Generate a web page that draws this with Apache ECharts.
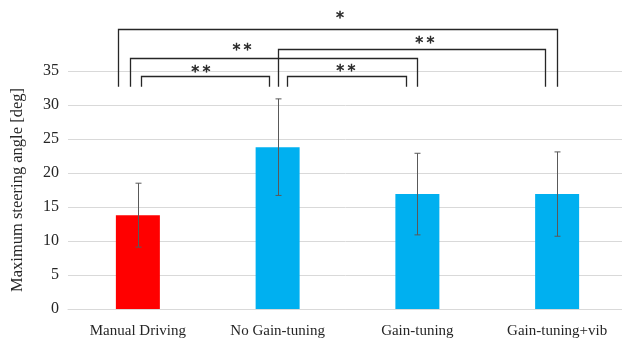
<!DOCTYPE html>
<html><head><meta charset="utf-8">
<script src="https://cdn.jsdelivr.net/npm/echarts@6/dist/echarts.min.js"></script>
<style>html,body{margin:0;padding:0;background:#fff}#c{width:622px;height:339px}</style>
</head><body><div id="c"></div>
<script>
const categories = ['Manual Driving', 'No Gain-tuning', 'Gain-tuning', 'Gain-tuning+vib'];
const means = [13.8, 23.8, 16.9, 16.9];
const sds = [4.7, 7.1, 6.0, 6.2];
const yTicks = [0, 5, 10, 15, 20, 25, 30, 35];
// significance comparisons: [from, to, label]
const comparisons = [[0, 3, '*'], [0, 2, '**'], [0, 1, '**'], [1, 3, '**'], [1, 2, '**']];
const bracketTop = [41.2, 36.9, 34.2, 38.3, 34.2];
const bracketLeftOff = [-0.145, -0.055, 0.02, 0.0, 0.07];
const bracketRightOff = [0.0, 0.0, -0.06, -0.09, -0.08];
const starX = [1.446, 0.745, 0.451, 2.054, 1.489];
const starLevel = [42.6, 37.9, 34.7, 39.0, 34.9];
const legBottom = 32.7;

const barColors = ['#FF0000', '#00B0F0', '#00B0F0', '#00B0F0'];
const font = 'Liberation Serif';

const chart = echarts.init(document.getElementById('c'));
chart.setOption({
  animation: false,
  grid: { left: 68, right: -5, top: 71, bottom: 30, outerBoundsMode: 'none', containLabel: false },
  xAxis: {
    type: 'category', data: categories,
    axisTick: { show: false },
    axisLine: { lineStyle: { color: '#d9d9d9' } },
    axisLabel: { fontFamily: font, fontSize: 15, color: '#262626', margin: 15 }
  },
  yAxis: {
    type: 'value', min: yTicks[0], max: yTicks[yTicks.length - 1], interval: 5,
    name: 'Maximum steering angle [deg]', nameLocation: 'middle', nameRotate: 90, nameGap: 42,
    nameTextStyle: { fontFamily: font, fontSize: 16.5, color: '#262626' },
    axisLine: { show: false }, axisTick: { show: false },
    axisLabel: { fontFamily: font, fontSize: 16, color: '#262626', margin: 9 },
    splitLine: { lineStyle: { color: '#d9d9d9', width: 1 } }
  },
  series: [
    {
      type: 'bar', barWidth: 44,
      data: means.map((v, i) => ({ value: v, itemStyle: { color: barColors[i] } }))
    },
    {
      type: 'custom', z: 5,
      data: means.map((m, i) => [i, m - sds[i], m + sds[i]]),
      renderItem: function (params, api) {
        const lo = api.coord([api.value(0), api.value(1)]);
        const hi = api.coord([api.value(0), api.value(2)]);
        const x = Math.round(lo[0]) + 0.5, hw = 3;
        const st = { stroke: '#595959', lineWidth: 1 };
        return { type: 'group', children: [
          { type: 'line', shape: { x1: x, y1: lo[1], x2: x, y2: hi[1] }, style: st },
          { type: 'line', shape: { x1: x - hw, y1: lo[1], x2: x + hw, y2: lo[1] }, style: st },
          { type: 'line', shape: { x1: x - hw, y1: hi[1], x2: x + hw, y2: hi[1] }, style: st }
        ]};
      }
    },
    {
      type: 'custom', z: 6, clip: false,
      data: comparisons.map((c, i) => [c[0], c[1], i]),
      renderItem: function (params, api) {
        const i = api.value(2);
        const c = comparisons[i];
        const band = api.size([1, 0])[0];
        const px = (xc, y) => { const p = api.coord([0, y]); return [p[0] + xc * band, p[1]]; };
        const a = px(c[0] + bracketLeftOff[i], legBottom);
        const b = px(c[0] + bracketLeftOff[i], bracketTop[i]);
        const d = px(c[1] + bracketRightOff[i], bracketTop[i]);
        const e = px(c[1] + bracketRightOff[i], legBottom);
        const s = px(starX[i], starLevel[i]);
        const r = v => Math.round(v) + 0.5;
        return { type: 'group', children: [
          { type: 'polyline', shape: { points: [[r(a[0]), a[1]], [r(b[0]), r(b[1])], [r(d[0]), r(d[1])], [r(e[0]), e[1]]] },
            style: { stroke: '#262626', lineWidth: 1.3, fill: null } },
          { type: 'text', x: s[0], y: s[1],
            style: { text: c[2].split('').join('\u2009'), font: '16px "DejaVu Sans"', fill: '#262626', stroke: '#262626', lineWidth: 0.5, align: 'center', verticalAlign: 'middle' } }
        ]};
      }
    }
  ]
});
</script></body></html>
